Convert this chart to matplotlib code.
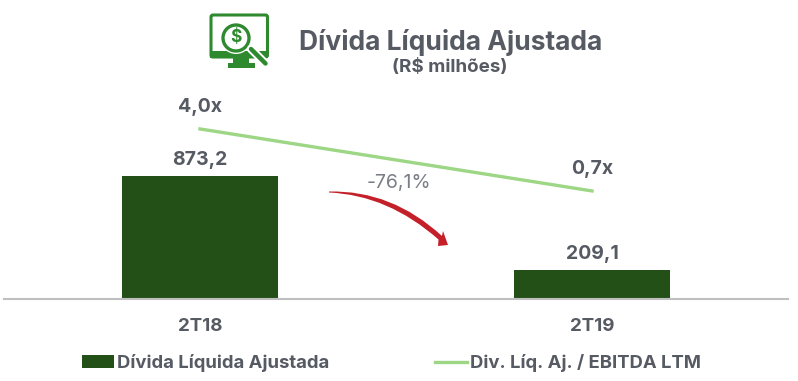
#!/usr/bin/env python3
"""Divida Liquida Ajustada - bars with leverage line"""

import matplotlib
matplotlib.use('Agg')
import matplotlib.pyplot as plt
from matplotlib.patches import Circle, FancyBboxPatch, PathPatch, Rectangle
from matplotlib.path import Path

periods = ['2T18', '2T19']
divida = [873.2, 209.1]
divida_labels = ['873,2', '209,1']
alavancagem = [4.0, 0.7]
alavancagem_labels = ['4,0x', '0,7x']
legend_names = ['Dívida Líquida Ajustada', 'Div. Líq. Aj. / EBITDA LTM']

TEXT = '#565a63'
DARK = '#225016'
LIGHT = '#9dd685'
RED = '#c4202a'
ICON = '#2f8a2f'
W, H = 798, 381

plt.rcParams['font.family'] = ['Inter', 'DejaVu Sans']

fig = plt.figure(figsize=(W / 100, H / 100), dpi=100, facecolor='white')

# main axes, placed in pixels: baseline at y=299
ax = fig.add_axes([4 / W, (H - 299) / H, 784 / W, 199 / H])
x = list(range(len(periods)))
ax.bar(x, divida, width=0.4, color=DARK, label=legend_names[0])
ax.set_xlim(-0.5, 1.5)
ax.set_ylim(0, 1412)
ax.set_yticks([])
ax.set_xticks(x)
ax.set_xticklabels(periods, fontsize=13.5, fontweight='bold', color=TEXT)
ax.tick_params(axis='x', length=0, pad=13.5)
for s in ['top', 'left', 'right']:
    ax.spines[s].set_visible(False)
ax.spines['bottom'].set_color('#bfbfbf')
ax.spines['bottom'].set_linewidth(1.5)
ax.patch.set_alpha(0)

for xi, v, lab in zip(x, divida, divida_labels):
    ax.annotate(lab, (xi, v), xytext=(0, 5), textcoords='offset points', ha='center',
                va='bottom', fontsize=14, fontweight='bold', color=TEXT)

# leverage line on its own scale
ax2 = ax.twinx()
ax2.plot(x, alavancagem, color=LIGHT, linewidth=2.4, label=legend_names[1])
ax2.set_ylim(-5.05, 5.54)
ax2.set_yticks([])
for s in ax2.spines.values():
    s.set_visible(False)
for xi, v, lab in zip(x, alavancagem, alavancagem_labels):
    ax2.annotate(lab, (xi, v), xytext=(0, 9), textcoords='offset points', ha='center',
                 va='bottom', fontsize=14, fontweight='bold', color=TEXT)

# overlay in pixel coordinates for title, icon and arrow
ov = fig.add_axes([0, 0, 1, 1], zorder=5)
ov.set_xlim(0, W)
ov.set_ylim(H, 0)
ov.axis('off')

ov.text(450.5, 43, 'Dívida Líquida Ajustada', ha='center', va='center', fontsize=19,
        fontweight='bold', color=TEXT)
ov.text(450, 68, '(R$ milhões)', ha='center', va='center', fontsize=13.5,
        fontweight='bold', color=TEXT)
ov.text(399, 183, '-76,1%', ha='center', va='center', fontsize=14, color='#7a7e86')

# icon: monitor with magnifier
ov.add_patch(FancyBboxPatch((211, 15), 56.5, 42, boxstyle='round,pad=0,rounding_size=2',
                            fc='white', ec=ICON, lw=2.2))
ov.add_patch(Rectangle((210, 51), 58, 7, fc=ICON, ec='none'))
ov.add_patch(Rectangle((233, 58), 16, 6, fc=ICON, ec='none'))
ov.add_patch(Rectangle((228, 63), 27, 5, fc=ICON, ec='none'))
ov.plot([251, 266], [49, 64], color='white', lw=6, solid_capstyle='round')
ov.plot([251, 265.5], [49, 63.5], color=ICON, lw=3.2, solid_capstyle='round')
ov.add_patch(Circle((236, 38), 16, fc='white', ec='none'))
ov.add_patch(Circle((236, 38), 13, fc='white', ec=ICON, lw=2.4))
ov.text(236, 38, '$', ha='center', va='center', fontsize=12.5, fontweight='bold', color=ICON)

# tapered red arrow
verts = [(329, 191.5), (392, 190), (442, 236), (443, 231), (448, 245), (438, 246),
         (438.5, 239.5), (388, 195), (329, 192.5), (329, 191.5)]
codes = [Path.MOVETO, Path.CURVE3, Path.CURVE3, Path.LINETO, Path.LINETO, Path.LINETO,
         Path.LINETO, Path.CURVE3, Path.CURVE3, Path.CLOSEPOLY]
ov.add_patch(PathPatch(Path(verts, codes), fc=RED, ec='none'))

handles = ax.get_legend_handles_labels()[0] + ax2.get_legend_handles_labels()[0]
fig.legend(handles, legend_names, ncol=2, loc='center left', bbox_to_anchor=(82 / W, (H - 363) / H),
           frameon=False, borderpad=0, borderaxespad=0, fontsize=13.3, handlelength=1.75,
           handletextpad=0.15, columnspacing=5.7, labelcolor=TEXT)
for t in fig.legends[0].get_texts():
    t.set_fontweight('bold')

fig.savefig('out.png', dpi=100, facecolor='white')
